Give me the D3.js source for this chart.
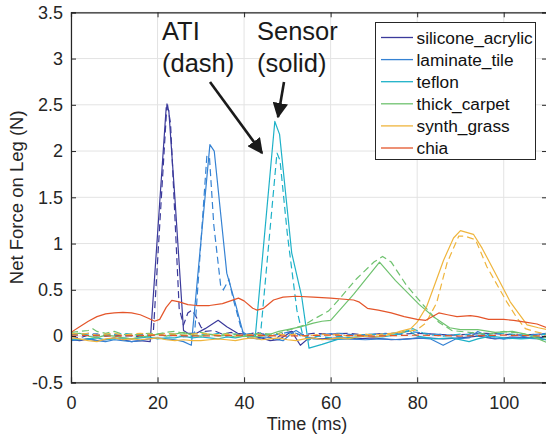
<!DOCTYPE html>
<html><head><meta charset="utf-8">
<script src="https://cdn.jsdelivr.net/npm/d3@7"></script>
<style>html,body{margin:0;padding:0;background:#fff;overflow:hidden}svg{display:block}text{font-family:"Liberation Sans",Arial,sans-serif}</style>
</head><body>
<script>
// ---------- DATA (time in ms, force in N) ----------
const surfaces = ["silicone_acrylic","laminate_tile","teflon","thick_carpet","synth_grass","chia"];
const colors = ["#3b3a9b","#3582d3","#1eb1c8","#6fc26f","#efb53d","#e4552a"];
const xTicks = [0,20,40,60,80,100];
const yTicks = [-0.5,0,0.5,1,1.5,2,2.5,3,3.5];

const siliconeSensor = [[0,-0.04],[2,-0.05],[4,-0.03],[6,-0.05],[8,-0.04],[10,-0.02],[12,-0.04],[14,-0.06],[16,-0.05],[18.3,-0.06],[22,2.47],[22.6,2.44],[24,1.5],[26,0.06],[27,0.03],[29,0.03],[31,0.08],[34,0.17],[36,0.1],[38.5,0.03],[40,0.02],[42,0.0],[44,-0.02],[46,-0.05],[48,-0.04],[50,0.02],[51,0.05],[53,-0.1],[55,-0.02],[58,-0.03],[62,-0.02],[66,-0.03],[70,-0.02],[74,-0.04],[78,-0.03],[82,-0.02],[86,-0.03],[90,-0.02],[94,0.0],[98,-0.03],[102,-0.01],[106,-0.02],[110,-0.01]];
const siliconeATI = [[0,0.0],[2,-0.02],[4,0.01],[6,0.02],[8,0.0],[10,0.01],[12,0.0],[14,0.01],[16,-0.01],[18,0.0],[19,0.02],[22.2,2.53],[23,2.3],[25,0.3],[26,0.12],[27,0.25],[28,0.28],[29,0.2],[30,0.1],[31,0.05],[33,0.06],[35,0.02],[37,0.04],[39,0.0],[41,0.02],[43,0.04],[45,0.01],[47,-0.04],[49,0.03],[51,0.05],[53,0.01],[56,0.03],[60,0.02],[64,0.03],[68,0.01],[72,0.03],[76,0.02],[80,0.03],[84,0.02],[88,0.01],[92,0.02],[96,0.03],[100,0.02],[104,0.01],[108,0.02],[110,0.02]];

const laminateSensor = [[0,-0.05],[2,-0.04],[4,-0.03],[6,-0.05],[8,-0.06],[10,-0.04],[12,-0.05],[14,-0.06],[16,-0.05],[18,-0.03],[20,-0.02],[22,-0.03],[24,-0.04],[26,-0.06],[27.8,-0.1],[32.1,2.07],[33.1,2.0],[36,0.68],[38,0.35],[39.8,0.03],[41,-0.02],[43,-0.03],[45,-0.01],[47,-0.03],[49,-0.05],[51,0.03],[52,0.06],[54,0.0],[56,-0.03],[60,-0.04],[64,-0.03],[68,-0.04],[72,-0.03],[76,-0.04],[80,-0.02],[83,-0.03],[86,-0.1],[89,-0.03],[92,-0.02],[94,0.05],[97,-0.02],[100,-0.03],[104,-0.02],[108,-0.03],[110,-0.04]];
const laminateATI = [[0,0.02],[2,0.01],[4,0.03],[6,0.02],[8,0.0],[10,0.02],[12,0.01],[14,0.0],[16,0.02],[18,0.01],[20,0.02],[22,0.0],[24,0.01],[26,-0.01],[28,0.0],[28.6,0.05],[31.4,1.95],[32,1.93],[33,1.2],[34.6,0.54],[35.2,0.5],[36.5,0.61],[37.5,0.4],[39.5,0.05],[40.5,0.02],[42,0.01],[44,0.03],[46,0.0],[48,0.02],[50,0.04],[52,0.03],[55,-0.04],[58,0.02],[62,0.03],[66,0.01],[70,0.02],[74,0.03],[78,0.05],[80,0.04],[84,0.02],[88,0.01],[90,-0.02],[93,0.04],[96,0.01],[100,-0.03],[103,-0.02],[106,0.01],[108,0.02],[110,0.03]];

const teflonSensor = [[0,-0.03],[2,-0.04],[4,-0.03],[6,-0.02],[8,-0.04],[10,-0.03],[12,-0.02],[14,-0.03],[16,-0.02],[18,-0.01],[20,-0.03],[22,-0.02],[24,-0.02],[26,0.0],[28,-0.02],[30,-0.01],[32,-0.02],[34,-0.03],[36,-0.01],[38,-0.02],[40,0.0],[42.6,0.0],[47.1,2.32],[48.2,2.18],[51,0.9],[53.3,0.43],[55,-0.13],[58,-0.09],[60,-0.06],[62,-0.03],[64,-0.02],[68,0.0],[72,-0.01],[76,0.02],[78,0.06],[80,0.0],[84,-0.03],[88,-0.02],[92,-0.06],[94,-0.03],[97,0.0],[100,-0.02],[104,-0.03],[108,-0.02],[110,-0.04]];
const teflonATI = [[0,0.02],[2,0.03],[4,0.01],[6,0.0],[8,0.02],[10,0.01],[12,0.03],[14,0.02],[16,0.0],[18,0.01],[20,0.02],[22,0.03],[24,0.02],[26,0.01],[28,0.0],[30,0.02],[32,0.01],[34,0.03],[36,0.0],[38,0.02],[40,0.01],[42,0.03],[43.8,0.02],[47.6,1.98],[48.3,1.9],[50,1.1],[52.2,0.28],[53.5,0.02],[55,-0.04],[57,0.0],[60,-0.02],[62,0.0],[65,-0.02],[68,0.02],[72,0.01],[76,0.03],[79,0.08],[82,0.02],[86,0.0],[90,0.02],[94,0.0],[98,0.03],[102,0.02],[106,0.0],[110,0.02]];

const carpetSensor = [[0,0.02],[2,0.03],[4,0.0],[6,-0.02],[8,0.01],[10,0.0],[12,-0.02],[14,-0.03],[16,-0.01],[18,0.0],[20,0.02],[22,0.0],[24,0.02],[26,0.04],[28,0.01],[30,0.0],[32,0.02],[34,0.0],[36,0.01],[38,-0.01],[40,0.0],[42,-0.01],[44,0.0],[46,0.02],[48,0.05],[50,0.07],[53,0.1],[56,0.14],[58,0.16],[60,0.17],[65.3,0.45],[71.3,0.8],[75,0.6],[80.5,0.34],[84,0.2],[87.5,0.09],[90,0.07],[94,0.07],[98,0.04],[102,0.05],[105,0.02],[108,-0.03],[110,-0.07]];
const carpetATI = [[0,0.04],[2,0.05],[4,0.06],[5,0.08],[6,0.05],[8,0.03],[10,0.05],[12,0.02],[14,0.01],[16,0.02],[18,0.03],[20,0.02],[22,0.04],[24,0.05],[26,0.03],[28,0.02],[30,0.04],[32,0.02],[34,0.01],[36,0.03],[38,0.02],[40,0.0],[42,0.02],[44,0.03],[46,0.02],[48,0.03],[50,0.06],[52,0.09],[54,0.12],[56,0.18],[59.5,0.27],[62,0.4],[66,0.62],[70,0.8],[72,0.86],[74,0.8],[77.5,0.55],[81.5,0.33],[85,0.15],[88,0.06],[92,0.04],[96,0.02],[100,0.05],[104,0.03],[107,0.0],[110,-0.02]];

const grassSensor = [[0,-0.02],[2,-0.03],[4,-0.05],[6,-0.06],[8,-0.03],[10,-0.02],[12,-0.04],[14,-0.03],[16,-0.04],[18,-0.03],[20,-0.02],[22,-0.04],[24,-0.05],[26,-0.04],[28,-0.05],[30,-0.05],[32,-0.04],[34,-0.03],[36,-0.04],[38,-0.05],[40,-0.03],[42,-0.02],[44,-0.04],[46,-0.03],[48,-0.02],[50,-0.04],[52,-0.05],[54,-0.03],[56,-0.02],[58,-0.04],[60,-0.03],[62,-0.02],[64,-0.03],[66,-0.01],[68,0.0],[70,-0.01],[72,0.0],[74,0.02],[76,0.05],[78.5,0.08],[80,0.15],[82.2,0.32],[84,0.55],[86.1,0.82],[88.4,1.06],[90,1.14],[93,1.1],[95,0.95],[97.6,0.72],[101.5,0.37],[105.4,0.12],[108,0.09],[110,0.07]];
const grassATI = [[0,0.03],[2,0.02],[4,0.03],[6,0.01],[8,0.02],[10,0.03],[12,0.01],[14,0.02],[16,0.03],[18,0.02],[20,0.01],[22,0.03],[24,0.02],[26,0.01],[28,0.02],[30,0.03],[32,0.02],[34,0.01],[36,0.02],[38,0.0],[40,0.01],[42,0.02],[44,0.01],[46,0.0],[48,0.02],[50,0.01],[52,0.02],[54,0.0],[56,0.01],[58,0.02],[60,0.01],[62,0.02],[64,0.0],[66,0.01],[68,0.02],[70,0.01],[72,0.02],[74,0.03],[76,0.04],[78,0.05],[80,0.07],[82,0.14],[84.5,0.36],[86.9,0.79],[89.6,1.08],[91,1.08],[93.5,1.04],[96.1,0.75],[100.7,0.37],[103,0.2],[105,0.08],[107,0.05],[110,0.02]];

const chiaSensor = [[0,0.04],[2,0.1],[4,0.16],[6,0.21],[8,0.24],[10,0.25],[12,0.255],[14,0.25],[16,0.23],[18,0.19],[19.3,0.16],[20.5,0.18],[22,0.31],[23.3,0.385],[25,0.37],[27,0.34],[29,0.33],[32,0.33],[35,0.35],[38.7,0.41],[40,0.38],[42,0.3],[43,0.28],[44.5,0.3],[46.8,0.39],[49,0.42],[52,0.43],[56,0.42],[60,0.41],[65.3,0.39],[66.5,0.37],[68.5,0.3],[71,0.28],[74,0.25],[77,0.21],[80,0.18],[82,0.17],[85,0.25],[87,0.23],[89.2,0.21],[92.3,0.22],[94,0.21],[96.5,0.18],[100,0.18],[102.3,0.17],[105,0.15],[107.7,0.13],[110,0.09]];
const chiaATI = [[0,0.01],[10,0.0],[20,0.01],[30,0.0],[40,0.01],[50,0.0],[60,0.01],[70,0.0],[80,0.01],[90,0.0],[100,0.01],[110,0.0]];

const sensorSeries = [siliconeSensor, laminateSensor, teflonSensor, carpetSensor, grassSensor, chiaSensor];
const atiSeries = [siliconeATI, laminateATI, teflonATI, carpetATI, grassATI, chiaATI];

// ---------- LAYOUT ----------
const W = 546, H = 435;
const m = {left: 71, top: 12.3, right: 547, bottom: 382.3};
const svg = d3.select("body").append("svg").attr("width", W).attr("height", H);
const x = d3.scaleLinear().domain([0,110]).range([m.left, m.right]);
const y = d3.scaleLinear().domain([-0.5,3.5]).range([m.bottom, m.top]);
const axisColor = "#262626";

// grid
const g = svg.append("g");
g.selectAll(".gx").data(xTicks.concat([110])).enter().append("line")
  .attr("x1", d=>x(d)).attr("x2", d=>x(d)).attr("y1", m.top).attr("y2", m.bottom)
  .attr("stroke", "#e3e3e3").attr("stroke-width", 1);
g.selectAll(".gy").data(yTicks).enter().append("line")
  .attr("x1", m.left).attr("x2", m.right).attr("y1", d=>y(d)).attr("y2", d=>y(d))
  .attr("stroke", "#e3e3e3").attr("stroke-width", 1);

// clip
svg.append("clipPath").attr("id","clip").append("rect")
  .attr("x", m.left).attr("y", m.top).attr("width", m.right-m.left).attr("height", m.bottom-m.top);

const line = d3.line().x(d=>x(d[0])).y(d=>y(d[1]));
const lines = svg.append("g").attr("clip-path","url(#clip)");
surfaces.forEach((s,i)=>{
  lines.append("path").datum(sensorSeries[i]).attr("d", line)
    .attr("fill","none").attr("stroke", colors[i]).attr("stroke-width", 1.2).attr("stroke-linejoin","round");
  lines.append("path").datum(atiSeries[i]).attr("d", line)
    .attr("fill","none").attr("stroke", colors[i]).attr("stroke-width", 1.2).attr("stroke-dasharray","7,4");
});

// axes
const ax = svg.append("g").attr("transform", `translate(0,${m.bottom})`)
  .call(d3.axisBottom(x).tickValues(xTicks).tickSize(-5).tickPadding(14).tickFormat(d3.format("d")));
const axT = svg.append("g").attr("transform", `translate(0,${m.top})`)
  .call(d3.axisTop(x).tickValues(xTicks).tickSize(-5).tickFormat(""));
const ay = svg.append("g").attr("transform", `translate(${m.left},0)`)
  .call(d3.axisLeft(y).tickValues(yTicks).tickSize(-5).tickPadding(8).tickFormat(d=>String(d)));
const ayR = svg.append("g").attr("transform", `translate(${m.right},0)`)
  .call(d3.axisRight(y).tickValues(yTicks).tickSize(-5).tickFormat(""));
[ax,axT,ay,ayR].forEach(a=>{
  a.select(".domain").attr("stroke", axisColor).attr("stroke-width",1.2);
  a.selectAll(".tick line").attr("stroke", axisColor);
  a.selectAll("text").attr("fill", axisColor).style("font-size","18px").style("font-family","'Liberation Sans', Arial, sans-serif");
});

// axis labels
svg.append("text").attr("x", (m.left+m.right)/2 - 2).attr("y", 430)
  .attr("text-anchor","middle").style("font-size","18px").attr("fill", axisColor).text("Time (ms)");
svg.append("text").attr("transform", `translate(23,${(m.top+m.bottom)/2}) rotate(-90)`)
  .attr("text-anchor","middle").style("font-size","18.5px").attr("fill", axisColor).text("Net Force on Leg (N)");

// legend
const lg = svg.append("g");
lg.append("rect").attr("x",375.5).attr("y",22.5).attr("width",160).attr("height",137)
  .attr("fill","#fff").attr("stroke", axisColor).attr("stroke-width",1);
surfaces.forEach((s,i)=>{
  const yy = 37.5 + i*22.1;
  lg.append("line").attr("x1",381).attr("x2",413).attr("y1",yy).attr("y2",yy)
    .attr("stroke", colors[i]).attr("stroke-width",1.3);
  lg.append("text").attr("x",416.5).attr("y",yy+6).style("font-size","17.3px").attr("fill","#111").text(s);
});

// annotations
const ann = svg.append("g").attr("fill","#1a1a1a").style("font-size","25.5px");
ann.append("text").attr("x",162).attr("y",40).text("ATI");
ann.append("text").attr("x",162).attr("y",72).text("(dash)");
ann.append("text").attr("x",257).attr("y",40).text("Sensor");
ann.append("text").attr("x",257).attr("y",72).text("(solid)");

svg.append("defs").append("marker").attr("id","ah").attr("viewBox","0 0 10 10")
  .attr("refX",9).attr("refY",5).attr("markerWidth",6).attr("markerHeight",6).attr("markerUnits","strokeWidth")
  .attr("orient","auto").append("path").attr("d","M0,0 L10,5 L0,10 z").attr("fill","#1a1a1a");
const arrows = [[210,82,262,153],[284,82,278,117]];
svg.selectAll(".arr").data(arrows).enter().append("line")
  .attr("x1",d=>d[0]).attr("y1",d=>d[1]).attr("x2",d=>d[2]).attr("y2",d=>d[3])
  .attr("stroke","#1a1a1a").attr("stroke-width",2.6).attr("marker-end","url(#ah)");
</script>
</body></html>
